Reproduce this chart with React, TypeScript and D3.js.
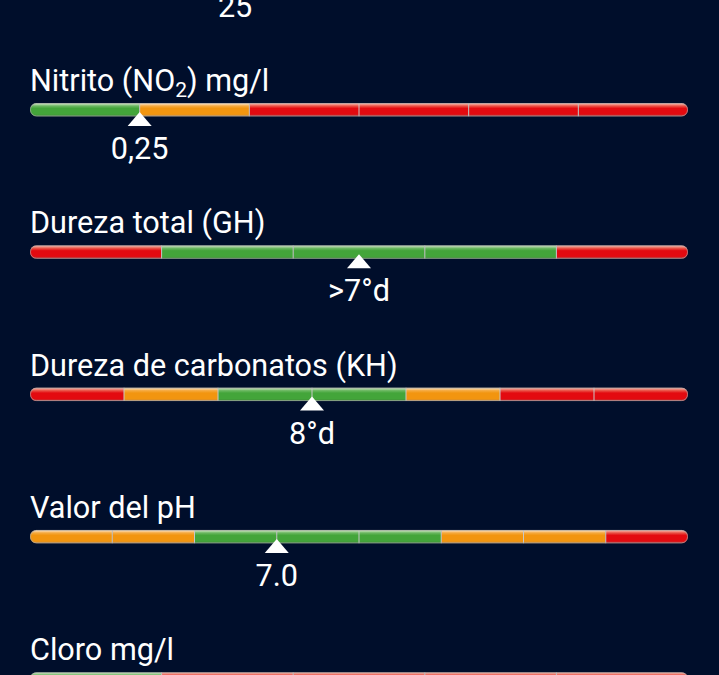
import React from "react";
import * as d3 from "d3";

const titles = ["", "Nitrito (NO2) mg/l", "Dureza total (GH)", "Dureza de carbonatos (KH)", "Valor del pH", "Cloro mg/l"];
const segmentColors: string[][] = [
  ["green", "green", "orange", "red", "red", "red"],
  ["green", "orange", "red", "red", "red", "red"],
  ["red", "green", "green", "green", "red"],
  ["red", "orange", "green", "green", "orange", "red", "red"],
  ["orange", "orange", "green", "green", "green", "orange", "orange", "red"],
  ["green", "red", "red", "red", "red"],
];
const markerPositions = [1.87, 1, 2.5, 3, 3, 0.5];
const valueLabels = ["25", "0,25", ">7°d", "8°d", "7.0", ""];

const W = 719;
const H = 675;
const BG = "#000e2b";
const palette: Record<string, { top: string; hi: string; mid: string; bot: string }> = {
  green: { top: "#b0d8a6", hi: "#6cb862", mid: "#43a53a", bot: "#3f8838" },
  orange: { top: "#fad09a", hi: "#f5aa40", mid: "#f2950f", bot: "#c78a40" },
  red: { top: "#f4988c", hi: "#ea5448", mid: "#e30a10", bot: "#b04444" },
};

export default function App() {
  const x0 = 30, x1 = 688;
  const period = 142.3;
  const firstBarTop = 103 - period;
  const barH = 13.5;
  const fs = 30.6;
  return (
    <div style={{ position: "fixed", left: 0, top: 0, width: W, height: H, background: BG }}>
      <svg width={W} height={H} style={{ display: "block", fontFamily: "Roboto, 'Noto Sans', sans-serif" }}>
        <defs>
          {Object.entries(palette).map(([k, c]) => (
            <linearGradient key={k} id={`g-${k}`} x1="0" y1="0" x2="0" y2="1">
              <stop offset="0%" stopColor={c.top} />
              <stop offset="10%" stopColor={c.top} />
              <stop offset="22%" stopColor={c.hi} />
              <stop offset="40%" stopColor={c.mid} />
              <stop offset="82%" stopColor={c.mid} />
              <stop offset="100%" stopColor={c.bot} />
            </linearGradient>
          ))}
        </defs>
        <rect width={W} height={H} fill={BG} />
        {titles.map((title, i) => {
          const segs = segmentColors[i];
          const n = segs.length;
          const xs = d3.scaleLinear().domain([0, n]).range([x0, x1]);
          const top = firstBarTop + i * period;
          const mx = xs(markerPositions[i]);
          const clipId = `clip-${i}`;
          const parts = title.split(/(NO2)/).filter((p) => p !== "");
          let shifted = false;
          return (
            <g key={i}>
              <clipPath id={clipId}>
                <rect x={x0} y={top} width={x1 - x0} height={barH} rx={6.5} ry={6.5} />
              </clipPath>
              {title && (
                <text x={x0} y={top - 12} fill="#fff" fontSize={fs}>
                  {parts.map((p, j) => {
                    if (p === "NO2") {
                      shifted = true;
                      return (
                        <React.Fragment key={j}>
                          <tspan>NO</tspan>
                          <tspan fontSize={21} dy={6}>2</tspan>
                        </React.Fragment>
                      );
                    }
                    const dy = shifted ? -6 : 0;
                    shifted = false;
                    return <tspan key={j} dy={dy}>{p}</tspan>;
                  })}
                </text>
              )}
              <g clipPath={`url(#${clipId})`}>
                {segs.map((c, j) => (
                  <rect key={j} x={xs(j)} y={top} width={xs(j + 1) - xs(j)} height={barH} fill={`url(#g-${c})`} />
                ))}
                {d3.range(1, n).map((j) => (
                  <line key={j} x1={xs(j)} x2={xs(j)} y1={top} y2={top + barH} stroke="#c8c8c8" strokeWidth={1} />
                ))}
              </g>
              <rect x={x0 + 0.5} y={top + 0.5} width={x1 - x0 - 1} height={barH - 1} rx={6} ry={6} fill="none" stroke="#a8a8a8" strokeOpacity={0.7} strokeWidth={1} />
              <path d={`M${mx},${top + 9} L${mx + 12},${top + 23} L${mx - 12},${top + 23} Z`} fill="#fff" />
              {valueLabels[i] && (
                <text x={mx} y={top + 56} fill="#fff" fontSize={fs} textAnchor="middle">{valueLabels[i]}</text>
              )}
            </g>
          );
        })}
      </svg>
    </div>
  );
}
